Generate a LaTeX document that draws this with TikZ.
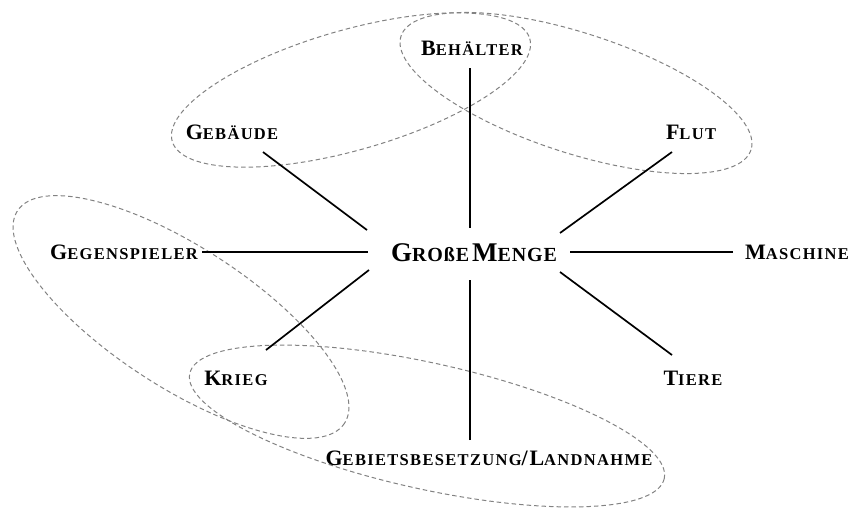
\documentclass[tikz,border=0pt]{standalone}
\usepackage{fontspec}
\setmainfont{Liberation Serif}
\newfontfamily\lsfont{Liberation Serif}[LetterSpace=8]
\newfontfamily\lsbigfont{Liberation Serif}[LetterSpace=4.5]
\newcommand\scl[2]{{\fontsize{22}{22}\selectfont #1}{\fontsize{16.5}{16.5}\selectfont #2}}
\newcommand\scbig[2]{{\fontsize{27}{27}\selectfont #1}{\fontsize{20}{20}\selectfont #2}}
\definecolor{ellgray}{RGB}{130,130,130}
\tikzset{
  lab/.style={inner sep=0pt, font=\lsfont\bfseries, anchor=center},
  biglab/.style={inner sep=0pt, font=\lsbigfont\bfseries, anchor=center},
  spoke/.style={line width=1.7pt, black},
  grp/.style={draw=ellgray, line width=1pt, dash pattern=on 4.5pt off 3pt},
}
\begin{document}
\begin{tikzpicture}[x=1pt,y=-1pt]
\useasboundingbox (0,0) rectangle (851,509);
% group ellipses
\draw[grp, rotate around={16:(351,90)}] (351,90) ellipse [x radius=186, y radius=60];
\draw[grp, rotate around={-18:(576,93)}] (576,93) ellipse [x radius=184, y radius=60];
\draw[grp, rotate around={-33:(181,317)}] (181,317) ellipse [x radius=195, y radius=70];
\draw[grp, rotate around={-12.5:(427,426)}] (427,426) ellipse [x radius=243, y radius=63];
% nodes
\node[biglab] (menge) at (474,253) {\scbig{G}{ROßE} \scbig{M}{ENGE}};
\node[lab] (behaelter) at (472,48) {\scl{B}{EHÄLTER}};
\node[lab] (gebaeude) at (232,132) {\scl{G}{EBÄUDE}};
\node[lab] (flut) at (691,132) {\scl{F}{LUT}};
\node[lab] (gegen) at (124,252) {\scl{G}{EGENSPIELER}};
\node[lab] (maschine) at (797,252) {\scl{M}{ASCHINE}};
\node[lab] (krieg) at (236,378) {\scl{K}{RIEG}};
\node[lab] (tiere) at (693,378) {\scl{T}{IERE}};
\node[lab] (gebiet) at (489,458) {\scl{G}{EBIETSBESETZUNG}{\fontsize{22}{22}\selectfont/}\scl{L}{ANDNAHME}};
% spoke end points
\coordinate (mT) at ([shift={(-4,-25)}]menge.center);
\coordinate (mB) at ([shift={(-4,27)}]menge.center);
\coordinate (mL) at ([shift={(-106,-1)}]menge.center);
\coordinate (mR) at ([shift={(96,-1)}]menge.center);
\coordinate (mUL) at ([shift={(-107,-23)}]menge.center);
\coordinate (mUR) at ([shift={(86,-20)}]menge.center);
\coordinate (mLL) at ([shift={(-105,17)}]menge.center);
\coordinate (mLR) at ([shift={(86,19)}]menge.center);
\coordinate (eT) at ([shift={(-2,20)}]behaelter.center);
\coordinate (eB) at ([shift={(-19,-18)}]gebiet.center);
\coordinate (eL) at ([shift={(78,0)}]gegen.center);
\coordinate (eR) at ([shift={(-64,0)}]maschine.center);
\coordinate (eUL) at ([shift={(31,20)}]gebaeude.center);
\coordinate (eUR) at ([shift={(-19,20)}]flut.center);
\coordinate (eLL) at ([shift={(30,-28)}]krieg.center);
\coordinate (eLR) at ([shift={(-21,-23)}]tiere.center);
% spokes
\draw[spoke] (eT) -- (mT);
\draw[spoke] (eB) -- (mB);
\draw[spoke] (eL) -- (mL);
\draw[spoke] (eR) -- (mR);
\draw[spoke] (eUL) -- (mUL);
\draw[spoke] (eUR) -- (mUR);
\draw[spoke] (eLL) -- (mLL);
\draw[spoke] (eLR) -- (mLR);
\end{tikzpicture}
\end{document}
